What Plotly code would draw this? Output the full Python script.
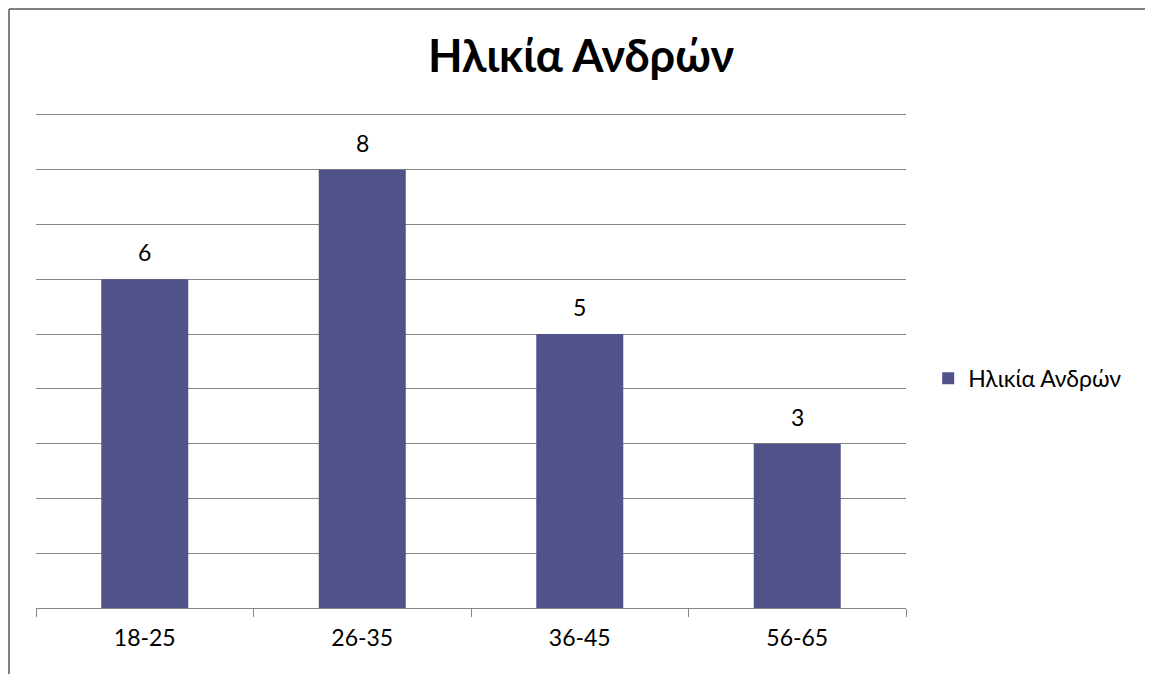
import plotly.graph_objects as go

age_groups = ['18-25', '26-35', '36-45', '56-65']
men_counts = [6, 8, 5, 3]
series_name = 'Ηλικία Ανδρών'

BAR_COLOR = '#52528A'
GRID_COLOR = '#868686'
FONT = 'Lato'

fig = go.Figure()
fig.add_trace(
    go.Bar(
        x=age_groups,
        y=men_counts,
        name=series_name,
        marker_color=BAR_COLOR,
        marker_line_width=0,
        width=0.4,
    )
)

# value labels above the bars
for cat, val in zip(age_groups, men_counts):
    fig.add_annotation(x=cat, y=val, text=str(val),
                       showarrow=False, yanchor='middle', yshift=27,
                       font=dict(size=23, family=FONT, color='#000000'))

# the page body adds 8px, margins are shifted to compensate
fig.update_layout(
    width=1153,
    height=674,
    margin=dict(l=28, r=255, t=107, b=74),
    paper_bgcolor='white',
    plot_bgcolor='white',
    font=dict(family=FONT, color='#000000'),
    title=dict(
        text='<b>' + series_name + '</b>',
        x=0.497,
        xanchor='center',
        y=0.928,
        yanchor='middle',
        font=dict(size=45, family=FONT, color='#000000'),
    ),
    showlegend=True,
    legend=dict(
        x=1.0255,
        xanchor='left',
        y=0.466,
        yanchor='middle',
        font=dict(size=23, family=FONT),
        itemwidth=30,
    ),
    xaxis=dict(
        showgrid=False,
        showline=True,
        mirror=True,
        linecolor=GRID_COLOR,
        linewidth=1,
        ticks='outside',
        tickson='boundaries',
        ticklen=8,
        tickcolor=GRID_COLOR,
        ticklabelstandoff=9,
        tickfont=dict(size=23, family=FONT),
    ),
    yaxis=dict(
        range=[0, 9],
        dtick=1,
        showgrid=True,
        gridcolor=GRID_COLOR,
        gridwidth=1,
        showticklabels=False,
        zeroline=False,
    ),
    shapes=[
        dict(type='line', xref='paper', yref='paper',
             x0=-27 / 870, x1=1.4, y0=1 + 106 / 493, y1=1 + 106 / 493,
             line=dict(color='#7f7f7f', width=2)),
        dict(type='line', xref='paper', yref='paper',
             x0=-27 / 870, x1=-27 / 870, y0=-0.2, y1=1 + 106 / 493,
             line=dict(color='#7f7f7f', width=2)),
    ],
)

fig.write_html('out.html')
